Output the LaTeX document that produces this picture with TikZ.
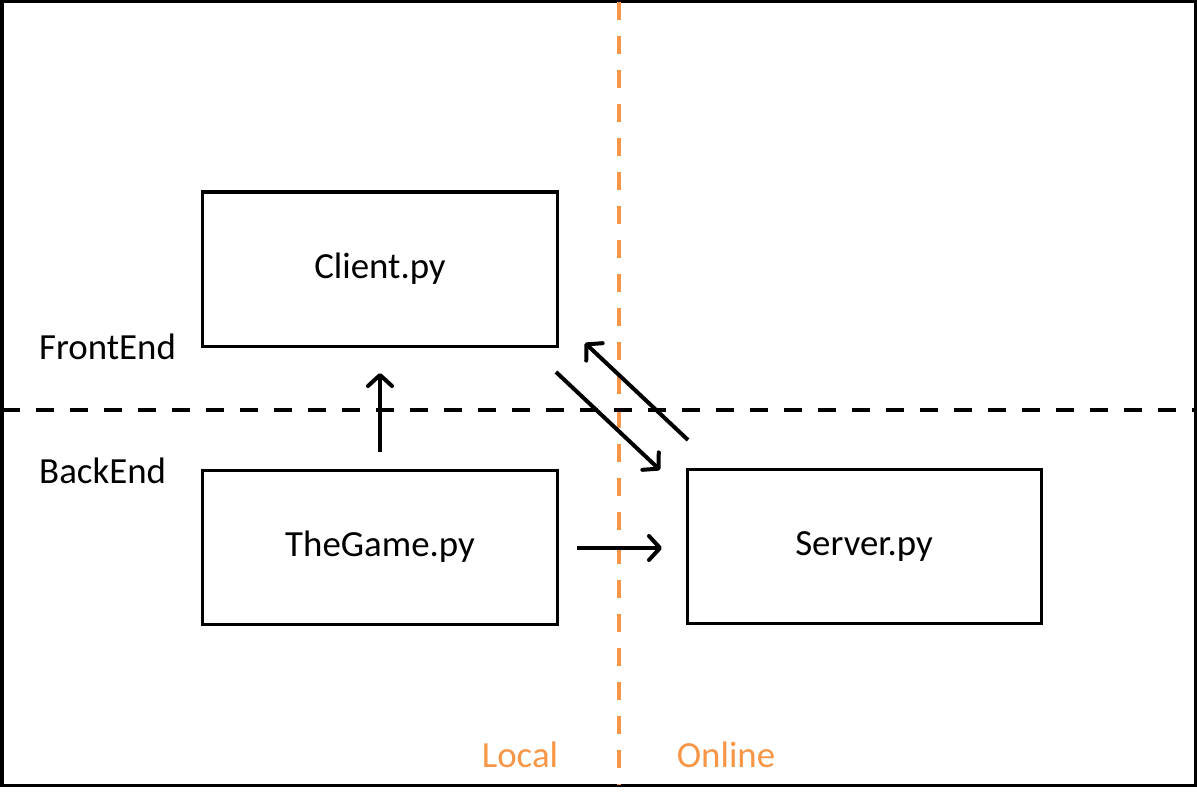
\documentclass[tikz,border=0pt]{standalone}
\usepackage{fontspec}
\setmainfont{Carlito}
\usetikzlibrary{arrows.meta}
\definecolor{offorange}{HTML}{F79646}
\begin{document}
\begin{tikzpicture}[x=1bp,y=-1bp,
  modbox/.style={draw,line width=3bp,minimum width=354bp,minimum height=154bp,inner sep=0pt,font=\fontsize{37}{44}\selectfont},
  lbl/.style={font=\fontsize{37}{44}\selectfont,inner sep=0pt},
  flow/.style={line width=4bp,-{Straight Barb[length=11bp,width=24bp,line cap=round,line join=round]}},
  divider/.style={line width=4bp,dash pattern=on 18bp off 16bp}]
\useasboundingbox (0,0) rectangle (1197,800);
\draw[line width=3bp] (2,2) rectangle (1195,785);
\coordinate (vt) at (619,2);
\coordinate (vb) at (619,785);
\coordinate (hl) at (2,410);
\coordinate (hr) at (1195,410);
\draw[divider,offorange] (vt) -- (vb);
\draw[divider] (hl) -- (hr);
\node[modbox] (client) at (380,269) {Client.py};
\node[modbox] (game) at (380,547) {TheGame.py};
\node[modbox] (server) at (864,546.5) {Server.py};
\node[lbl,anchor=west] (fe) at (39,347) {FrontEnd};
\node[lbl,anchor=west] (be) at (39,471) {BackEnd};
\node[lbl,text=offorange] (loc) at (520,755) {Local};
\node[lbl,text=offorange] (onl) at (726,755) {Online};
\coordinate (a1s) at (380,452);
\coordinate (a1e) at (380,373);
\coordinate (a2s) at (577,548);
\coordinate (a2e) at (662,548);
\coordinate (a3s) at (556,372);
\coordinate (a3e) at (660,470);
\coordinate (a4s) at (688,440);
\coordinate (a4e) at (585,343);
\draw[flow] (a1s) -- (a1e);
\draw[flow] (a2s) -- (a2e);
\draw[flow] (a3s) -- (a3e);
\draw[flow] (a4s) -- (a4e);
\end{tikzpicture}
\end{document}
